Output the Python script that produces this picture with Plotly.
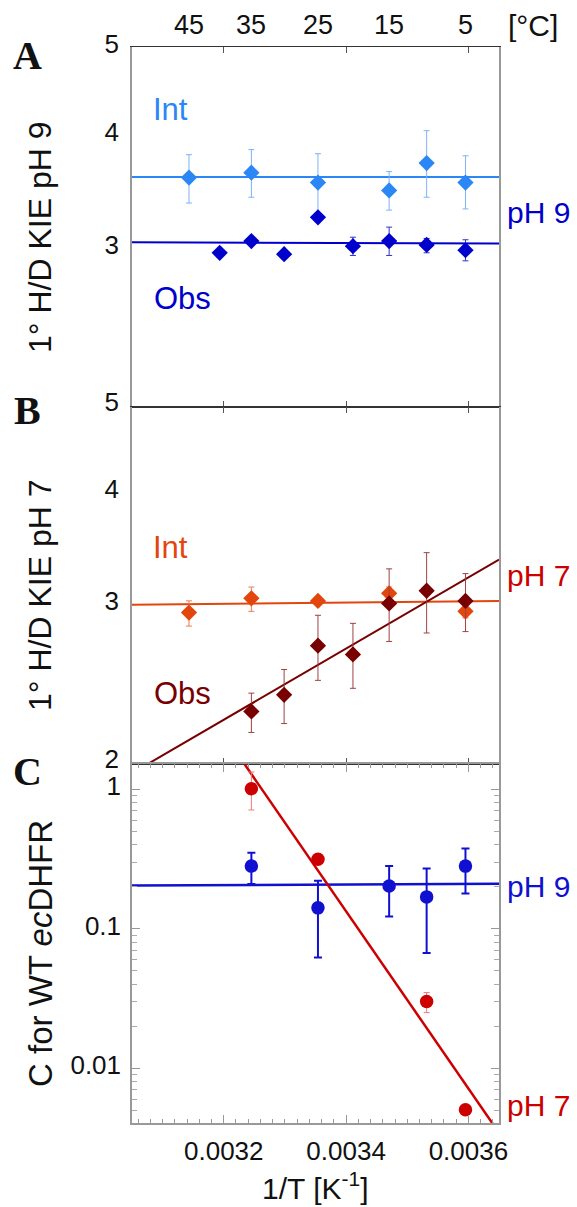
import numpy as np
import plotly.graph_objects as go

# ---------------- data ----------------
# Panel A: pH 9, 1° H/D KIE
a_int_temp = [45, 35, 25, 15, 10, 5]
a_int_kie = [3.585, 3.63, 3.54, 3.47, 3.72, 3.54]
a_int_errp = [0.215, 0.22, 0.27, 0.17, 0.32, 0.25]
a_int_errm = [0.225, 0.22, 0.26, 0.17, 0.31, 0.23]
a_obs_temp = [40, 35, 30, 25, 20, 15, 10, 5]
a_obs_kie = [2.96, 3.05, 2.95, 3.24, 3.01, 3.05, 3.02, 2.98]
a_obs_errp = [0, 0, 0, 0, 0.07, 0.11, 0.05, 0.08]
a_obs_errm = [0, 0, 0, 0, 0.07, 0.11, 0.06, 0.08]
a_int_fit = [3.59, 3.59]
a_obs_fit = [3.04, 3.03]

# Panel B: pH 7, 1° H/D KIE
b_int_temp = [45, 35, 25, 15, 5]
b_int_kie = [2.95, 3.06, 3.04, 3.10, 2.96]
b_int_errp = [0.09, 0.09, 0.02, 0.05, 0.05]
b_int_errm = [0.10, 0.10, 0.02, 0.05, 0.05]
b_obs_temp = [35, 30, 25, 20, 15, 10, 5]
b_obs_kie = [2.29, 2.39, 2.71, 2.65, 3.02, 3.12, 3.04]
b_obs_errp = [0.11, 0.16, 0.22, 0.22, 0.28, 0.32, 0.22]
b_obs_errm = [0.12, 0.17, 0.23, 0.22, 0.28, 0.32, 0.23]
b_int_fit = [3.01, 3.04]
b_obs_fit = [1.955, 3.38]

fit_x = [0.00305, 0.00365]

# Panel C: C for WT ecDHFR
c7_temp = [35, 25, 10, 5]
c7_val = [1.01, 0.315, 0.030, 0.00503]
c7_errp = [0.32, 0.012, 0.0048, 0.0003]
c7_errm = [0.30, 0.012, 0.005, 0.0003]
c9_temp = [35, 25, 15, 10, 5]
c9_val = [0.281, 0.141, 0.202, 0.169, 0.281]
c9_errp = [0.069, 0.080, 0.079, 0.101, 0.095]
c9_errm = [0.072, 0.079, 0.080, 0.102, 0.102]
c9_fit = [0.204, 0.210]
c7_fit_x = [0.0032, 0.00365]
c7_fit = [2.49, 0.00343]

top_temps = [45, 35, 25, 15, 5]
x_tickvals = [0.0032, 0.0034, 0.0036]
x_ticktext = ["0.0032", "0.0034", "0.0036"]
a_yticks = [3, 4, 5]
b_yticks = [2, 3, 4, 5]
c_yticks = [0.01, 0.1, 1]
c_yticktext = ["0.01", "0.1", "1"]

# ---------------- style ----------------
SANS = "Liberation Sans, Arial, sans-serif"
SERIF = "Liberation Serif, Times New Roman, serif"
W, H = 577, 1207
ML, MR, MT, MB = 132, 78, 47, 84
PW, PH = W - ML - MR, H - MT - MB

C_INT_A = "#2b86f6"
C_OBS_A = "#0000cc"
C_INT_B = "#e2460c"
C_OBS_B = "#780000"
C_RED = "#cc0000"
C_BLUE = "#1010d0"


def inv(ts):
    return [1.0 / (t + 273.15) for t in ts]


def px(x):
    return (x - ML) / PW


def py(y):
    return (H - MB - y) / PH


fig = go.Figure()


def add_line(x, y, color, width, xa, ya):
    fig.add_trace(go.Scatter(x=x, y=y, mode="lines", line=dict(color=color, width=width),
                             xaxis=xa, yaxis=ya, showlegend=False, hoverinfo="skip"))


def add_pts(x, y, ep, em, color, ecolor, xa, ya, symbol="diamond", size=12.5,
            ethick=1, ewidth=3):
    fig.add_trace(go.Scatter(
        x=x, y=y, mode="markers",
        marker=dict(symbol=symbol, size=size, color=color, line=dict(width=0)),
        error_y=dict(type="data", array=ep, arrayminus=em, symmetric=False,
                     color=ecolor, thickness=ethick, width=ewidth),
        xaxis=xa, yaxis=ya, showlegend=False))


# Panel A
add_line(fit_x, a_int_fit, C_INT_A, 2, "x", "y")
add_line(fit_x, a_obs_fit, C_OBS_A, 2, "x", "y")
add_pts(inv(a_int_temp), a_int_kie, a_int_errp, a_int_errm, C_INT_A, "#7fb2f8", "x", "y")
add_pts(inv(a_obs_temp), a_obs_kie, a_obs_errp, a_obs_errm, C_OBS_A, "#3333cc", "x", "y")

# Panel B
add_line(fit_x, b_int_fit, C_INT_B, 2, "x2", "y2")
add_line(fit_x, b_obs_fit, C_OBS_B, 2, "x2", "y2")
add_pts(inv(b_int_temp), b_int_kie, b_int_errp, b_int_errm, C_INT_B, "#ee7a55", "x2", "y2")
add_pts(inv(b_obs_temp), b_obs_kie, b_obs_errp, b_obs_errm, C_OBS_B, "#a04040", "x2", "y2")

# Panel C
add_line(fit_x, c9_fit, C_BLUE, 2.5, "x3", "y3")
add_line(c7_fit_x, c7_fit, C_RED, 2.5, "x3", "y3")
add_pts(inv(c9_temp), c9_val, c9_errp, c9_errm, C_BLUE, C_BLUE, "x3", "y3",
        symbol="circle", size=13.5, ethick=2, ewidth=4)
add_pts(inv(c7_temp), c7_val, c7_errp, c7_errm, C_RED, "#f07a7a", "x3", "y3",
        symbol="circle", size=13.5, ethick=1, ewidth=3)

xr = [0.00305, 0.00365]
d_c = [0, py(764.3)]
d_b = [py(764.3), py(406.7)]
d_a = [py(406.7), 1]

xbase = dict(range=xr, showgrid=False, zeroline=False, showline=True, mirror="allticks",
             ticks="inside", tickvals=x_tickvals, ticktext=x_ticktext)
TICKFONT = dict(family=SANS, size=26, color="#111")
fig.update_layout(
    xaxis=dict(**xbase, anchor="y", linecolor="#333", linewidth=1, ticklen=6,
               tickcolor="#555", showticklabels=False),
    xaxis2=dict(**xbase, anchor="y2", matches="x", linecolor="#333", linewidth=1,
                ticklen=6, tickcolor="#555", showticklabels=False),
    xaxis3=dict(**xbase, anchor="y3", matches="x", linecolor="#999", linewidth=1.5,
                ticklen=8, tickcolor="#999", showticklabels=True,
                tickfont=TICKFONT, ticklabelstandoff=4,
                minor=dict(ticks="inside", ticklen=4, dtick=0.00002, tick0=0.0032,
                           tickcolor="#999", showgrid=False)),
    yaxis=dict(type="log", range=[np.log10(2), np.log10(5)], domain=d_a, anchor="x",
               showgrid=False, zeroline=False, showline=True, mirror=True,
               linecolor="#999", linewidth=1.5, ticks="", tickvals=a_yticks,
               ticktext=[str(v) for v in a_yticks],
               tickfont=TICKFONT, ticklabelstandoff=6, ticklabelshift=-3),
    yaxis2=dict(type="log", range=[np.log10(2), np.log10(5)], domain=d_b, anchor="x2",
                showgrid=False, zeroline=False, showline=True, mirror=True,
                linecolor="#999", linewidth=1.5, ticks="", tickvals=b_yticks,
                ticktext=[str(v) for v in b_yticks],
                tickfont=TICKFONT, ticklabelstandoff=6, ticklabelshift=-5),
    yaxis3=dict(type="log", range=[-2.394, 0.179], domain=d_c, anchor="x3",
                showgrid=False, zeroline=False, showline=True, mirror="allticks",
                linecolor="#999", linewidth=1.5, ticks="inside", ticklen=8,
                tickcolor="#999", tickvals=c_yticks, ticktext=c_yticktext,
                tickfont=TICKFONT, ticklabelstandoff=4, ticklabelshift=-3,
                minor=dict(ticks="inside", ticklen=5, tickcolor="#aaa",
                           tickvals=[m * 10.0 ** e for e in (-3, -2, -1) for m in range(2, 10)
                                     if 0.0041 < m * 10.0 ** e < 1.5])),
)


def ann(text, x, y, size, color, xanchor="center", family=SANS, angle=0):
    return dict(xref="paper", yref="paper", x=px(x), y=py(y), text=text, showarrow=False,
                xanchor=xanchor, yanchor="middle", textangle=angle,
                font=dict(family=family, size=size, color=color))


anns = [
    ann("<b>A</b>", 28, 55, 40, "#111", family=SERIF),
    ann("<b>B</b>", 28, 410, 40, "#111", family=SERIF),
    ann("<b>C</b>", 28, 771, 40, "#111", family=SERIF),
    ann("Int", 151, 109, 31, C_INT_A, xanchor="left"),
    ann("Obs", 152, 298, 31, C_OBS_A, xanchor="left"),
    ann("Int", 151, 547, 31, C_INT_B, xanchor="left"),
    ann("Obs", 152, 693, 31, C_OBS_B, xanchor="left"),
    ann("pH 9", 505, 212, 30, C_OBS_A, xanchor="left"),
    ann("pH 7", 505, 575, 30, C_RED, xanchor="left"),
    ann("pH 9", 505, 886, 30, C_BLUE, xanchor="left"),
    ann("pH 7", 505, 1105, 30, C_RED, xanchor="left"),
    ann("[°C]", 506, 25, 30, "#111", xanchor="left"),
    ann("1° H/D KIE pH 9", 40, 237, 32, "#111", angle=-90),
    ann("1° H/D KIE pH 7", 40, 595, 32, "#111", angle=-90),
    ann("C for WT <i>ec</i>DHFR", 40, 954, 33, "#111", angle=-90),
    ann("1/T [K<sup>-1</sup>]", 315, 1186, 30, "#111"),
]
# Celsius temperature labels along the top of panel A, placed on the 1/T scale
for t in top_temps:
    anns.append(dict(xref="x", yref="paper", x=1.0 / (t + 273.15), y=py(25), text=str(t),
                     showarrow=False, xanchor="center", yanchor="middle",
                     font=dict(family=SANS, size=27, color="#111")))

fig.update_layout(
    width=W, height=H, margin=dict(l=ML, r=MR, t=MT, b=MB, pad=0),
    paper_bgcolor="white", plot_bgcolor="white", showlegend=False,
    annotations=anns, font=dict(family=SANS),
)

fig.write_html("out.html")
